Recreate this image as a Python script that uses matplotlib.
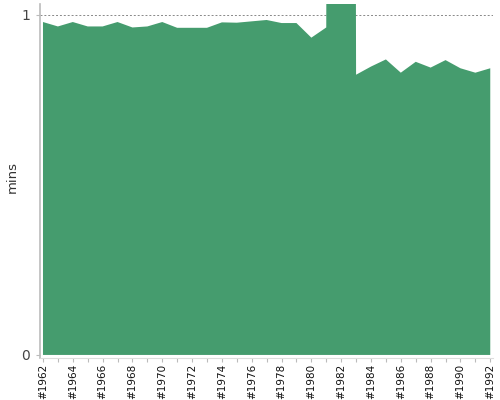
import matplotlib
matplotlib.use("Agg")
import matplotlib.pyplot as plt
from matplotlib.ticker import MultipleLocator, FuncFormatter

years = list(range(1962, 1993))
mins = [0.979, 0.966, 0.979, 0.966, 0.966, 0.979, 0.963, 0.966, 0.979, 0.962,
        0.962, 0.962, 0.978, 0.977, 0.981, 0.985, 0.976, 0.976, 0.933, 0.963,
        20.0, 0.824, 0.848, 0.869, 0.830, 0.862, 0.845, 0.867, 0.843, 0.830,
        0.843]
ytick_vals = [0, 1]

fig = plt.figure(figsize=(5, 4), dpi=100)
ax = fig.add_axes([0.08, 0.105, 0.905, 0.885])
color = "#459c6e"
ax.fill_between(years, mins, 0, color=color, linewidth=0)
ax.set_xlim(1961.8, 1992.15)
ax.set_ylim(-0.009, 1.032)
ax.axhline(1, color="#888888", linestyle=(0, (2, 2)), linewidth=0.7, zorder=0)

ax.set_yticks(ytick_vals)
ax.set_yticklabels([str(v) for v in ytick_vals], fontsize=10, color="#444444")
ax.xaxis.set_major_locator(MultipleLocator(2))
ax.xaxis.set_minor_locator(MultipleLocator(1))
ax.xaxis.set_major_formatter(FuncFormatter(lambda v, p: "#%d" % int(round(v))))
ax.tick_params(axis="x", which="both", rotation=90, labelsize=7.5, color="#bbbbbb",
               length=3, width=0.8, labelcolor="#111111", pad=1)
ax.tick_params(axis="y", color="#bbbbbb", length=3, width=0.8, pad=4)
ax.set_ylabel("mins", fontsize=9.5, color="#333333")
ax.yaxis.set_label_coords(-0.048, 0.51)

for s in ["top", "right"]:
    ax.spines[s].set_visible(False)
ax.spines["left"].set_color("#bbbbbb")
ax.spines["bottom"].set_color("#dddddd")
ax.spines["left"].set_linewidth(1.2)
ax.spines["bottom"].set_linewidth(0.8)

fig.savefig("out.png", dpi=100)
